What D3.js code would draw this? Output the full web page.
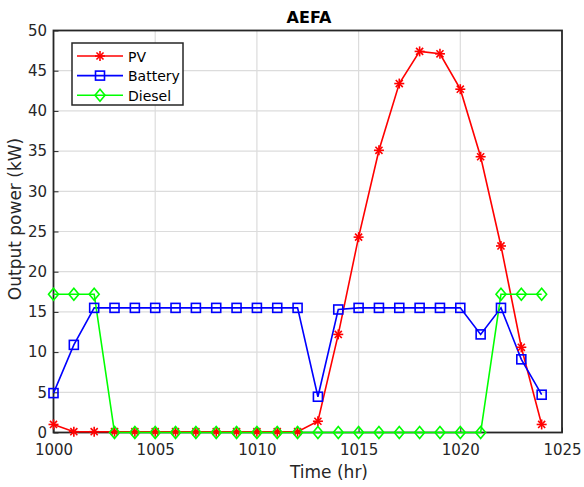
<!DOCTYPE html>
<html>
<head>
<meta charset="utf-8">
<script src="https://cdn.jsdelivr.net/npm/d3@7"></script>
<style>
  body { margin: 0; background: #fff; }
  svg { font-family: "DejaVu Sans", Verdana, sans-serif; }
</style>
</head>
<body>
<script>
"use strict";

const hours = d3.range(1000, 1025);
const pv      = [1.0, 0.1, 0.1, 0.1, 0.1, 0.1, 0.1, 0.1, 0.1, 0.1, 0.1, 0.1, 0.1, 1.4, 12.2, 24.3, 35.1, 43.4, 47.4, 47.1, 42.7, 34.3, 23.2, 10.6, 1.0];
const battery = [4.9, 10.9, 15.5, 15.5, 15.5, 15.5, 15.5, 15.5, 15.5, 15.5, 15.5, 15.5, 15.5, 4.45, 15.3, 15.5, 15.5, 15.5, 15.5, 15.5, 15.5, 12.2, 15.5, 9.1, 4.7];
const diesel  = [17.2, 17.2, 17.2, 0, 0, 0, 0, 0, 0, 0, 0, 0, 0, 0, 0, 0, 0, 0, 0, 0, 0, 0, 17.2, 17.2, 17.2];
const xTicks = [1000, 1005, 1010, 1015, 1020, 1025];
const yTicks = [0, 5, 10, 15, 20, 25, 30, 35, 40, 45, 50];

const series = [
    { name: "PV", values: pv, color: "#ff0000", marker: "star" },
    { name: "Battery", values: battery, color: "#0000ff", marker: "square" },
    { name: "Diesel", values: diesel, color: "#00ff00", marker: "diamond" }
];

const wSvg = 584, hSvg = 487;
const xLeft = 53.5, xRight = 562, yTop = 30.5, yBottom = 432.5;

const xScale = d3.scaleLinear().domain([1000, 1025]).range([xLeft, xRight]);
const yScale = d3.scaleLinear().domain([0, 50]).range([yBottom, yTop]);

const svg = d3.select("body").append("svg")
    .attr("width", wSvg).attr("height", hSvg);

// grid
svg.append("g").selectAll("line")
    .data(xTicks.slice(1, -1))
    .enter().append("line")
    .attr("x1", d => xScale(d)).attr("x2", d => xScale(d))
    .attr("y1", yTop).attr("y2", yBottom)
    .attr("stroke", "#dcdcdc").attr("stroke-width", 1.2);
svg.append("g").selectAll("line")
    .data(yTicks.slice(1, -1))
    .enter().append("line")
    .attr("x1", xLeft).attr("x2", xRight)
    .attr("y1", d => yScale(d)).attr("y2", d => yScale(d))
    .attr("stroke", "#dcdcdc").attr("stroke-width", 1.2);

// axes
const xAxis = svg.append("g")
    .attr("transform", `translate(0, ${yBottom})`)
    .call(d3.axisBottom(xScale).tickValues(xTicks).tickSize(-5).tickPadding(11.5).tickFormat(d3.format("d")));
const yAxis = svg.append("g")
    .attr("transform", `translate(${xLeft}, 0)`)
    .call(d3.axisLeft(yScale).tickValues(yTicks).tickSize(-5).tickPadding(6.5));
[xAxis, yAxis].forEach(a => {
    a.select(".domain").remove();
    a.selectAll("line").attr("stroke", "#262626");
    a.selectAll("text").attr("fill", "#262626").style("font-size", "15px").style("font-family", "DejaVu Sans");
});

// box
svg.append("rect")
    .attr("x", xLeft).attr("y", yTop)
    .attr("width", xRight - xLeft).attr("height", yBottom - yTop)
    .attr("fill", "none").attr("stroke", "#262626").attr("stroke-width", 1.8);

// markers
function drawMarker (g, type, color) {
    if (type === "star") {
        const r = 5;
        [0, 45, 90, 135].forEach(a => {
            const rad = a * Math.PI / 180;
            g.append("line")
                .attr("x1", -r * Math.cos(rad)).attr("y1", -r * Math.sin(rad))
                .attr("x2", r * Math.cos(rad)).attr("y2", r * Math.sin(rad))
                .attr("stroke", color).attr("stroke-width", 1.6);
        });
    } else if (type === "square") {
        g.append("rect").attr("x", -4.5).attr("y", -4.5).attr("width", 9).attr("height", 9)
            .attr("fill", "none").attr("stroke", color).attr("stroke-width", 1.6);
    } else {
        g.append("path").attr("d", "M0,-6L5,0L0,6L-5,0Z")
            .attr("fill", "none").attr("stroke", color).attr("stroke-width", 1.6);
    }
}

const line = d3.line()
    .x((d, i) => xScale(hours[i]))
    .y(d => yScale(d));

series.forEach(s => {
    svg.append("path")
        .datum(s.values)
        .attr("d", line)
        .attr("fill", "none")
        .attr("stroke", s.color)
        .attr("stroke-width", 1.6);
});
series.forEach(s => {
    s.values.forEach((v, i) => {
        const g = svg.append("g").attr("transform", `translate(${xScale(hours[i])}, ${yScale(v)})`);
        drawMarker(g, s.marker, s.color);
    });
});

// title and labels
svg.append("text").text("AEFA")
    .attr("x", 309).attr("y", 22.5)
    .attr("text-anchor", "middle").style("font-size", "16px").style("font-weight", "bold").attr("fill", "#000");
svg.append("text").text("Time (hr)")
    .attr("x", 329).attr("y", 478)
    .attr("text-anchor", "middle").style("font-size", "17px").attr("fill", "#262626");
svg.append("text").text("Output power (kW)")
    .attr("transform", `translate(21, 219) rotate(-90)`)
    .attr("text-anchor", "middle").style("font-size", "17px").attr("fill", "#262626");

// legend
const legend = svg.append("g");
legend.append("rect")
    .attr("x", 72).attr("y", 43).attr("width", 111).attr("height", 62)
    .attr("fill", "#fff").attr("stroke", "#262626").attr("stroke-width", 1.5);
series.forEach((s, i) => {
    const y = 56 + i * 19.6;
    legend.append("line")
        .attr("x1", 77).attr("x2", 123).attr("y1", y).attr("y2", y)
        .attr("stroke", s.color).attr("stroke-width", 1.6);
    drawMarker(legend.append("g").attr("transform", `translate(100, ${y})`), s.marker, s.color);
    legend.append("text").text(s.name)
        .attr("x", 128).attr("y", y + 5.5)
        .style("font-size", "14px").attr("fill", "#000");
});
</script>
</body>
</html>
